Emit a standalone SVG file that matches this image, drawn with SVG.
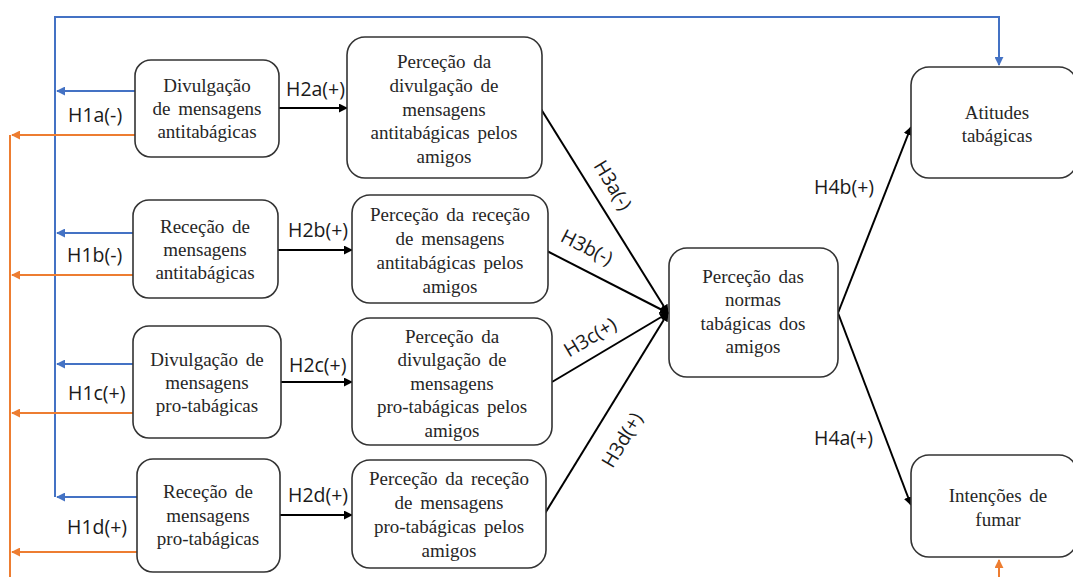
<svg xmlns="http://www.w3.org/2000/svg" width="1073" height="577" viewBox="0 0 1073 577">
  <style>
    .box { fill: #ffffff; stroke: #333333; stroke-width: 1.6; }
    .txt { font-family: "Liberation Serif", "Times New Roman", serif; font-size: 19px; word-spacing: 3px; fill: #262626; text-anchor: middle; }
    .lbl { font-family: "Open Sans", "Liberation Sans", sans-serif; font-size: 19.5px; fill: #1a1a1a; }
    .blk { fill: none; stroke: #000000; stroke-width: 2; }
    .blue { fill: none; stroke: #4472C4; stroke-width: 2; }
    .orange { fill: none; stroke: #ED7D31; stroke-width: 2; }
  </style>
  <defs>
    <marker id="ah-black" viewBox="0 0 10 10" refX="9" refY="5" markerWidth="4.5" markerHeight="4.5" orient="auto" markerUnits="strokeWidth">
      <path d="M0,0 L10,5 L0,10 Z" fill="#000000"/>
    </marker>
    <marker id="ah-blue" viewBox="0 0 10 10" refX="9" refY="5" markerWidth="4.5" markerHeight="4.5" orient="auto" markerUnits="strokeWidth">
      <path d="M0,0 L10,5 L0,10 Z" fill="#4472C4"/>
    </marker>
    <marker id="ah-orange" viewBox="0 0 10 10" refX="9" refY="5" markerWidth="4.5" markerHeight="4.5" orient="auto" markerUnits="strokeWidth">
      <path d="M0,0 L10,5 L0,10 Z" fill="#ED7D31"/>
    </marker>
  </defs>
  <rect width="1073" height="577" fill="#ffffff"/>

  <!-- connectors -->
  <g id="connectors">
    <!-- blue feedback: left spine, top run into Atitudes -->
    <path class="blue" d="M55,497 L55,17 L999,17 L999,65" marker-end="url(#ah-blue)"/>
    <path class="blue" d="M135,91 L57,91" marker-end="url(#ah-blue)"/>
    <path class="blue" d="M133,233 L57,233" marker-end="url(#ah-blue)"/>
    <path class="blue" d="M133,364 L57,364" marker-end="url(#ah-blue)"/>
    <path class="blue" d="M140,497 L57,497" marker-end="url(#ah-blue)"/>
    <!-- orange feedback: outer spine running below the frame into Intenções -->
    <path class="orange" d="M10,135 L10,580"/>
    <path class="orange" d="M135,135 L12,135" marker-end="url(#ah-orange)"/>
    <path class="orange" d="M133,275 L12,275" marker-end="url(#ah-orange)"/>
    <path class="orange" d="M133,413 L12,413" marker-end="url(#ah-orange)"/>
    <path class="orange" d="M138,552 L12,552" marker-end="url(#ah-orange)"/>
    <path class="orange" d="M999,580 L999,560" marker-end="url(#ah-orange)"/>
    <!-- H2 links -->
    <path class="blk" d="M279,108 L347,108" marker-end="url(#ah-black)"/>
    <path class="blk" d="M278,250 L352,250" marker-end="url(#ah-black)"/>
    <path class="blk" d="M281,382 L352,382" marker-end="url(#ah-black)"/>
    <path class="blk" d="M280,515 L352,515" marker-end="url(#ah-black)"/>
    <!-- H3 links converging on the norms node -->
    <path class="blk" d="M541,109 L668,313" marker-end="url(#ah-black)"/>
    <path class="blk" d="M545,250 L668,313" marker-end="url(#ah-black)"/>
    <path class="blk" d="M552,382 L668,313" marker-end="url(#ah-black)"/>
    <path class="blk" d="M544,515 L668,313" marker-end="url(#ah-black)"/>
    <!-- H4 links -->
    <path class="blk" d="M838,313 L911,127" marker-end="url(#ah-black)"/>
    <path class="blk" d="M838,313 L911,505" marker-end="url(#ah-black)"/>

    <!-- hypothesis labels -->
    <text class="lbl" x="68" y="122">H1a(-)</text>
    <text class="lbl" x="67" y="262">H1b(-)</text>
    <text class="lbl" x="68" y="400">H1c(+)</text>
    <text class="lbl" x="67" y="534">H1d(+)</text>
    <text class="lbl" x="286" y="96">H2a(+)</text>
    <text class="lbl" x="288" y="237">H2b(+)</text>
    <text class="lbl" x="289" y="372">H2c(+)</text>
    <text class="lbl" x="288" y="502">H2d(+)</text>
    <text class="lbl" text-anchor="middle" transform="translate(613,185) rotate(59)" y="7">H3a(-)</text>
    <text class="lbl" text-anchor="middle" transform="translate(587,247) rotate(27)" y="7">H3b(-)</text>
    <text class="lbl" text-anchor="middle" transform="translate(590,337) rotate(-31)" y="7">H3c(+)</text>
    <text class="lbl" text-anchor="middle" transform="translate(622,440) rotate(-59)" y="7">H3d(+)</text>
    <text class="lbl" x="814" y="194">H4b(+)</text>
    <text class="lbl" x="814" y="445">H4a(+)</text>
  </g>

  <!-- source nodes -->
  <g id="divulgacao-anti">
    <rect class="box" x="135" y="60" width="144" height="97" rx="16"/>
    <text class="txt" x="207" y="92">Divulgação</text>
    <text class="txt" x="207" y="115">de mensagens</text>
    <text class="txt" x="207" y="138">antitabágicas</text>
  </g>
  <g id="rececao-anti">
    <rect class="box" x="133" y="200" width="145" height="98" rx="16"/>
    <text class="txt" x="205" y="233">Receção de</text>
    <text class="txt" x="205" y="256">mensagens</text>
    <text class="txt" x="205" y="279">antitabágicas</text>
  </g>
  <g id="divulgacao-pro">
    <rect class="box" x="133" y="326" width="148" height="112" rx="16"/>
    <text class="txt" x="207" y="366">Divulgação de</text>
    <text class="txt" x="207" y="389">mensagens</text>
    <text class="txt" x="207" y="412">pro-tabágicas</text>
  </g>
  <g id="rececao-pro">
    <rect class="box" x="137" y="459" width="143" height="113" rx="16"/>
    <text class="txt" x="208" y="498">Receção de</text>
    <text class="txt" x="208" y="522">mensagens</text>
    <text class="txt" x="208" y="545">pro-tabágicas</text>
  </g>

  <!-- perceived-by-friends nodes -->
  <g id="percecao-divulgacao-anti">
    <rect class="box" x="347" y="37" width="195" height="141" rx="18"/>
    <text class="txt" x="444" y="68">Perceção da</text>
    <text class="txt" x="444" y="92">divulgação de</text>
    <text class="txt" x="444" y="116">mensagens</text>
    <text class="txt" x="444" y="139">antitabágicas pelos</text>
    <text class="txt" x="444" y="163">amigos</text>
  </g>
  <g id="percecao-rececao-anti">
    <rect class="box" x="352" y="195" width="196" height="108" rx="18"/>
    <text class="txt" x="450" y="221">Perceção da receção</text>
    <text class="txt" x="450" y="245">de mensagens</text>
    <text class="txt" x="450" y="269">antitabágicas pelos</text>
    <text class="txt" x="450" y="293">amigos</text>
  </g>
  <g id="percecao-divulgacao-pro">
    <rect class="box" x="352" y="318" width="200" height="127" rx="18"/>
    <text class="txt" x="452" y="343">Perceção da</text>
    <text class="txt" x="452" y="366">divulgação de</text>
    <text class="txt" x="452" y="390">mensagens</text>
    <text class="txt" x="452" y="413">pro-tabágicas pelos</text>
    <text class="txt" x="452" y="437">amigos</text>
  </g>
  <g id="percecao-rececao-pro">
    <rect class="box" x="352" y="460" width="194" height="108" rx="18"/>
    <text class="txt" x="449" y="485">Perceção da receção</text>
    <text class="txt" x="449" y="509">de mensagens</text>
    <text class="txt" x="449" y="533">pro-tabágicas pelos</text>
    <text class="txt" x="449" y="557">amigos</text>
  </g>

  <!-- norms node -->
  <g id="normas">
    <rect class="box" x="669" y="248" width="169" height="129" rx="18"/>
    <text class="txt" x="753" y="283">Perceção das</text>
    <text class="txt" x="753" y="306">normas</text>
    <text class="txt" x="753" y="330">tabágicas dos</text>
    <text class="txt" x="753" y="353">amigos</text>
  </g>

  <!-- outcome nodes -->
  <g id="atitudes">
    <rect class="box" x="911" y="67" width="166" height="111" rx="18"/>
    <text class="txt" x="997" y="119">Atitudes</text>
    <text class="txt" x="997" y="142">tabágicas</text>
  </g>
  <g id="intencoes">
    <rect class="box" x="911" y="455" width="166" height="102" rx="18"/>
    <text class="txt" x="998" y="502">Intenções de</text>
    <text class="txt" x="998" y="526">fumar</text>
  </g>
</svg>
